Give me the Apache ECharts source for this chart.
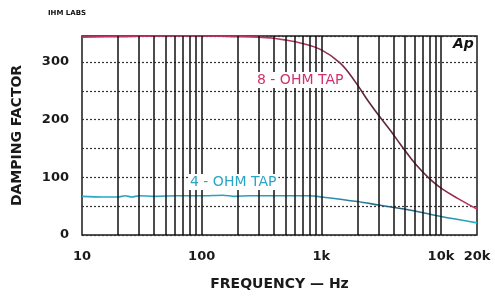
<!DOCTYPE html>
<html>
<head>
<meta charset="utf-8">
<script src="https://cdn.jsdelivr.net/npm/echarts@6/dist/echarts.min.js"></script>
<style>
  html, body { margin: 0; padding: 0; background: #fff; }
  #chart { width: 495px; height: 296px; }
</style>
</head>
<body>
<div id="chart"></div>
<script>
// 8-ohm tap, damping factor vs frequency
var freq8 = [10, 20, 50, 100, 200, 300, 400, 500, 667, 1000, 1440, 1930, 2430, 3000, 3780, 4590, 6120, 8170, 10230, 13670, 20000];
var damp8 = [343, 344, 345, 345, 344, 343, 341, 338, 333, 321, 298, 265, 234, 208, 181, 157, 123, 96, 80, 64, 45];

// 4-ohm tap
var freq4 = [10, 15, 20, 23, 26, 30, 40, 60, 100, 150, 190, 250, 300, 500, 800, 1000, 2000, 3000, 5900, 10000, 20000];
var damp4 = [67, 66, 66, 68, 66, 68, 67, 68, 68, 69, 67, 68, 68, 68, 68, 66, 58, 52, 42, 32, 21];

// vertical grid lines of the log paper
var gridFreqs = [20, 30, 40, 50, 60, 70, 80, 90, 100, 200, 300, 400, 500, 600, 700, 800, 900,
                 1000, 2000, 3000, 4000, 5000, 6000, 7000, 8000, 9000, 10000];

function pairs(xs, ys) {
  var out = [];
  for (var i = 0; i < xs.length; i++) out.push([xs[i], ys[i]]);
  return out;
}

var myChart = echarts.init(document.getElementById('chart'));

var option = {
  animation: false,
  grid: {
    left: 82, right: 18, top: 36, bottom: 57,
    show: true, borderColor: '#1a1a1a', borderWidth: 1.5
  },
  xAxis: {
    type: 'log',
    logBase: 10,
    min: 10,
    max: 20000,
    name: 'FREQUENCY — Hz',
    nameLocation: 'middle',
    nameGap: 42,
    nameTextStyle: { fontFamily: 'DejaVu Sans', fontSize: 14, fontWeight: 'bold', color: '#1a1a1a' },
    axisLine: { show: false },
    axisTick: { show: false },
    splitLine: { show: false },
    axisLabel: {
      margin: 15,
      fontFamily: 'DejaVu Sans', fontSize: 13, fontWeight: 'bold', color: '#1a1a1a',
      formatter: function (v) {
        v = Math.round(v);
        return v >= 1000 ? (v / 1000) + 'k' : String(v);
      }
    }
  },
  yAxis: {
    type: 'value',
    min: 0,
    max: 345,
    interval: 50,
    name: 'DAMPING FACTOR',
    nameLocation: 'middle',
    nameGap: 58,
    nameTextStyle: { fontFamily: 'DejaVu Sans', fontSize: 14, fontWeight: 'bold', color: '#1a1a1a' },
    axisLine: { show: false },
    axisTick: { show: false },
    splitLine: { lineStyle: { color: '#333', type: [2, 2], width: 1.2 } },
    axisLabel: {
      margin: 13,
      fontFamily: 'DejaVu Sans', fontSize: 13, fontWeight: 'bold', color: '#1a1a1a',
      formatter: function (v) { return v % 100 === 0 ? v : ''; }
    }
  },
  graphic: [
    { type: 'text', left: 48, top: 10, z: 10, style: { text: 'IHM LABS', font: 'bold 7px DejaVu Sans', fill: '#111' } },
    { type: 'text', left: 453, top: 37, z: 10, style: { text: 'Ap', font: 'italic bold 14px DejaVu Sans', fill: '#111', backgroundColor: '#fff' } },
    { type: 'text', left: 255, top: 72, z: 10, style: { text: '8 - OHM TAP', font: '14px DejaVu Sans', fill: '#d0306e', backgroundColor: '#fff', padding: [1, 2] } },
    { type: 'text', left: 188, top: 174, z: 10, style: { text: '4 - OHM TAP', font: '14px DejaVu Sans', fill: '#2aa4c4', backgroundColor: '#fff', padding: [1, 2] } }
  ],
  series: [
    {
      name: 'grid',
      type: 'line',
      data: [],
      z: 1,
      silent: true,
      markLine: {
        silent: true,
        symbol: 'none',
        label: { show: false },
        lineStyle: { color: '#111', type: 'solid', width: 1.5 },
        data: gridFreqs.map(function (f) { return { xAxis: f }; })
      }
    },
    {
      name: '8-OHM TAP',
      type: 'line',
      z: 3,
      smooth: 0.4,
      symbol: 'none',
      data: pairs(freq8, damp8),
      lineStyle: {
        width: 1.6,
        color: new echarts.graphic.LinearGradient(0, 0, 1, 0, [
          { offset: 0, color: '#c8306a' },
          { offset: 0.55, color: '#b03562' },
          { offset: 0.72, color: '#5a2838' },
          { offset: 0.88, color: '#6a2a40' },
          { offset: 1, color: '#d0306a' }
        ])
      }
    },
    {
      name: '4-OHM TAP',
      type: 'line',
      z: 3,
      smooth: 0.3,
      symbol: 'none',
      data: pairs(freq4, damp4),
      lineStyle: {
        width: 1.6,
        color: new echarts.graphic.LinearGradient(0, 0, 1, 0, [
          { offset: 0, color: '#2aa8c4' },
          { offset: 0.6, color: '#2a9ab8' },
          { offset: 0.8, color: '#2a5a78' },
          { offset: 1, color: '#28b4cc' }
        ])
      }
    }
  ]
};
myChart.setOption(option);
</script>
</body>
</html>
